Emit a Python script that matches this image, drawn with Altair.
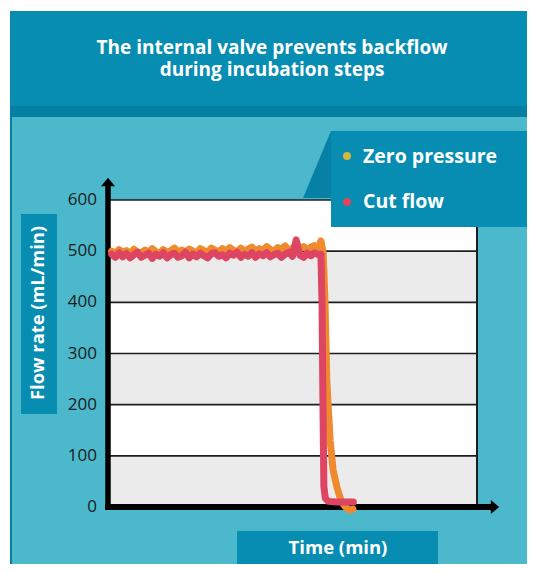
import altair as alt
import pandas as pd

# ---------------- data ----------------
y_ticks = [0, 100, 200, 300, 400, 500, 600]
band_lo = [0, 100, 200, 300, 400, 500]
band_hi = [100, 200, 300, 400, 500, 600]
band_fill = ["#EBEBEB", "#FFFFFF", "#EBEBEB", "#FFFFFF", "#EBEBEB", "#FFFFFF"]
grid_vals = [100, 200, 300, 400, 500]

flat_t = [1, 2, 3, 4, 5, 6, 7, 8, 9, 10, 11, 12, 13, 14, 15, 16, 17, 18, 19, 20,
          21, 22, 23, 24, 25, 26, 27, 28, 29, 30, 31, 32, 33, 34, 35, 36, 37, 38,
          39, 40, 41, 42, 43, 44, 45, 46, 47, 48, 49, 50, 51, 52, 53, 54, 55, 56, 57]

zero_t = flat_t + [57.7, 58.3, 58.8, 59.3, 60.2, 61.0, 62.1, 63.1, 64.2, 65.3, 66.4]
zero_v = [500, 496, 503, 498, 501, 495, 504, 498, 497, 502,
          498, 505, 499, 496, 503, 498, 501, 506, 498, 502,
          499, 504, 500, 497, 505, 501, 498, 506, 502, 499,
          505, 500, 507, 502, 499, 506, 501, 504, 508, 500,
          505, 502, 509, 503, 500, 507, 504, 510, 501, 506,
          512, 505, 509, 503, 508, 511, 506,
          520, 498, 403, 247, 130, 72, 37, 14, 1, -6, -4]

cut_t = flat_t + [57.7, 58.0, 58.3, 58.5, 58.9, 59.7, 62.0, 66.5]
cut_v = [494, 488, 497, 489, 495, 487, 493, 498, 488, 492,
         496, 486, 494, 490, 497, 487, 493, 496, 488, 491,
         498, 487, 494, 489, 496, 491, 487, 495, 497, 490,
         493, 487, 496, 492, 498, 488, 494, 490, 497, 488,
         495, 491, 497, 489, 493, 496, 488, 494, 498, 490,
         522, 492, 488, 496, 491, 497, 493,
         494, 400, 170, 40, 17, 11, 10, 10]

series_names = ["Zero pressure", "Cut flow"]
line_colors = ["#F08A2F", "#DD4563"]
legend_dot_colors = ["#D6B63F", "#DE4563"]

title_lines = ["The internal valve prevents backflow", "during incubation steps"]
y_title = "Flow rate (mL/min)"
x_title = "Time (min)"

# ---------------- frames ----------------
bands = pd.DataFrame({"lo": band_lo, "hi": band_hi, "fill": band_fill})
grid = pd.DataFrame({"g": grid_vals})
ticks = pd.DataFrame({"tick": y_ticks})
zero_df = pd.DataFrame({"t": zero_t, "v": zero_v})
cut_df = pd.DataFrame({"t": cut_t, "v": cut_v})
dummy = pd.DataFrame({"d": [0]})

W, H = 369, 307
FONT = "Open Sans"
HEADER = "#078DB2"
DARK = "#0580A4"
BODY = "#4BB8CB"

yscale = alt.Scale(domain=[0, 600], nice=False, zero=False)
xscale = alt.Scale(domain=[0, 100], nice=False, zero=False)


def box(x1, x2, y1, y2, color):
    return alt.Chart(dummy).mark_rect(color=color).encode(
        x=alt.value(x1), x2=alt.value(x2), y=alt.value(y1), y2=alt.value(y2))


def label(txt, x, y, size=19, align="center", angle=0, color="white", weight="bold"):
    return alt.Chart(dummy).mark_text(
        font=FONT, fontSize=size, fontWeight=weight, color=color,
        align=align, baseline="middle", angle=angle
    ).encode(x=alt.value(x), y=alt.value(y), text=alt.value(txt))


def rule(x1, x2, y1, y2, width, color="black"):
    return alt.Chart(dummy).mark_rule(color=color, strokeWidth=width).encode(
        x=alt.value(x1), x2=alt.value(x2), y=alt.value(y1), y2=alt.value(y2))


def shape(path, x, y, size, color):
    return alt.Chart(dummy).mark_point(
        shape=path, filled=True, size=size, color=color, opacity=1, strokeWidth=0
    ).encode(x=alt.value(x), y=alt.value(y))


background = [
    box(-97, 430, -83, 380, BODY),
    box(-98, 430, -189, -94, HEADER),
    box(-98, 430, -94, -83, DARK),
    box(-98, -96, -94, 380, DARK),
]

band_layer = alt.Chart(bands).mark_rect().encode(
    x=alt.value(0), x2=alt.value(W),
    y=alt.Y("lo:Q", scale=yscale, axis=None),
    y2="hi:Q",
    color=alt.Color("fill:N", scale=None),
)

grid_layer = alt.Chart(grid).mark_rule(color="#1e1e1e", strokeWidth=1.6).encode(
    x=alt.value(0), x2=alt.value(W),
    y=alt.Y("g:Q", scale=yscale, axis=None),
)

tick_layer = alt.Chart(ticks).mark_text(
    font=FONT, fontSize=17, color="#1b1b1b", align="right", baseline="middle"
).encode(
    x=alt.value(-11),
    y=alt.Y("tick:Q", scale=yscale, axis=None),
    text=alt.Text("tick:Q"),
)

borders = [
    rule(0, W, 0, 0, 1.5, "#1e1e1e"),
    rule(W, W, 0, H, 2, "#1e1e1e"),
]

axes = [
    rule(0, 0, -17, H + 3, 5.5),
    rule(-3, 385, H, H, 6),
    shape("M0,-0.6L1,0.6L-1,0.6Z", 0, -18, 196, "black"),
    shape("M0.6,0L-0.6,-1L-0.6,1Z", 387, H, 196, "black"),
]

zero_line = alt.Chart(zero_df).mark_line(
    color=line_colors[0], strokeWidth=7, strokeJoin="round", strokeCap="round"
).encode(x=alt.X("t:Q", scale=xscale, axis=None), y=alt.Y("v:Q", scale=yscale, axis=None))

cut_line = alt.Chart(cut_df).mark_line(
    color=line_colors[1], strokeWidth=7, strokeJoin="round", strokeCap="round"
).encode(x=alt.X("t:Q", scale=xscale, axis=None), y=alt.Y("v:Q", scale=yscale, axis=None))

legend = [
    shape("M0.418,-1L0.418,1L-0.418,1Z", 209, -35.5, 4489, "#0780A6"),
    box(223, 422, -69, 27, HEADER),
    shape("circle", 239, -44, 64, legend_dot_colors[0]),
    shape("circle", 239, 2, 64, legend_dot_colors[1]),
    label(series_names[0], 255, -43, size=19.5, align="left"),
    label(series_names[1], 255, 2, size=19.5, align="left"),
]

title_text = alt.Chart(dummy).mark_text(
    font=FONT, fontSize=19, fontWeight="bold", color="white",
    align="center", baseline="alphabetic", lineHeight=22
).encode(x=alt.value(164), y=alt.value(-146), text=alt.value(title_lines))

titles = [
    title_text,
    box(-87, -51, 14, 214, HEADER),
    label(y_title, -69, 113, size=18.3, angle=270),
    box(129, 330, 331, 367, HEADER),
    label(x_title, 230, 348, size=18.5),
]

chart = alt.layer(
    *background, band_layer, grid_layer, tick_layer, *borders, *axes,
    zero_line, cut_line, *legend, *titles
).properties(
    width=W, height=H,
    autosize=alt.AutoSizeParams(type="none"),
    padding={"left": 100, "top": 192, "right": 50, "bottom": 57},
    background="white",
).configure_view(stroke="transparent")

chart.save("out.html", embed_options={"renderer": "svg", "actions": False})
